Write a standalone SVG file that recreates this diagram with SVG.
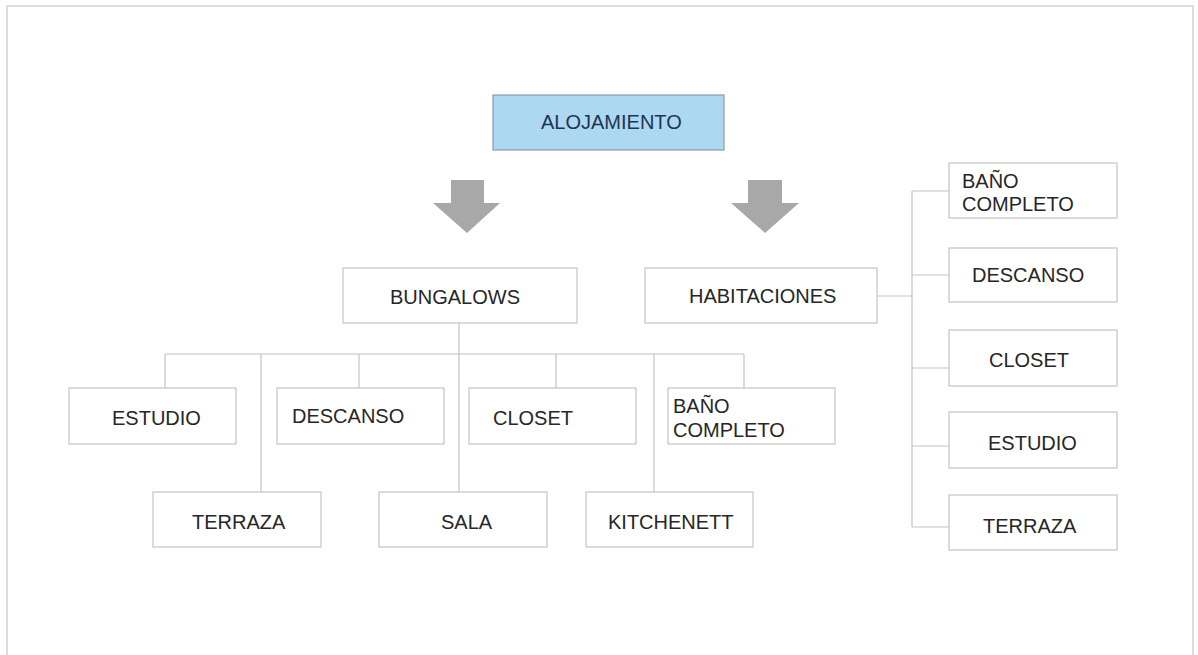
<svg xmlns="http://www.w3.org/2000/svg" width="1198" height="655" viewBox="0 0 1198 655">
<style>
.box{fill:#ffffff;stroke:#c4c4c4;stroke-width:1.2}
.root{fill:#acd8f2;stroke:#8d9ba6;stroke-width:1.2}
.t{font-family:"Liberation Sans",Arial,sans-serif;font-size:20px;fill:#262626}
.rt{fill:#1e3550}
.ln{stroke:#c4c4c4;stroke-width:1.2;fill:none}
.arr{fill:#a8a8a8}
</style>
<rect x="7" y="6" width="1186" height="670" fill="#ffffff" stroke="#d2d2d2" stroke-width="1.5"/>
<g id="connectors">
<path class="ln" d="M459,323 V492 M165,354 H744 M165,354 V388 M261,354 V492 M359,354 V388 M556,354 V388 M654,354 V492 M744,354 V388"/>
<path class="ln" d="M877,296 H912 M912,191 V527 M912,191 H949 M912,275 H949 M912,368 H949 M912,446 H949 M912,527 H949"/>
<polygon class="arr" points="451,180 484,180 484,203 500,203 467,233 433,203 451,203"/>
<polygon class="arr" points="748,180 782,180 782,203 799,203 765,233 731,203 748,203"/>
</g>
<g id="alojamiento"><rect class="root" x="493" y="95" width="231" height="55"/><text class="t rt" x="541" y="129">ALOJAMIENTO</text></g>
<g id="bungalows"><rect class="box" x="343" y="268" width="234" height="55"/><text class="t" x="390" y="304">BUNGALOWS</text></g>
<g id="habitaciones"><rect class="box" x="645" y="268" width="232" height="55"/><text class="t" x="689" y="303">HABITACIONES</text></g>
<g id="b-estudio"><rect class="box" x="69" y="388" width="167" height="56"/><text class="t" x="112" y="425">ESTUDIO</text></g>
<g id="b-descanso"><rect class="box" x="277" y="388" width="167" height="56"/><text class="t" x="292" y="423">DESCANSO</text></g>
<g id="b-closet"><rect class="box" x="469" y="388" width="167" height="56"/><text class="t" x="493" y="425">CLOSET</text></g>
<g id="b-bano"><rect class="box" x="668" y="388" width="167" height="56"/><text class="t" x="673" y="413">BAÑO</text><text class="t" x="673" y="437">COMPLETO</text></g>
<g id="b-terraza"><rect class="box" x="153" y="492" width="168" height="55"/><text class="t" x="192" y="529">TERRAZA</text></g>
<g id="b-sala"><rect class="box" x="379" y="492" width="168" height="55"/><text class="t" x="441" y="529">SALA</text></g>
<g id="b-kitchenett"><rect class="box" x="586" y="492" width="167" height="55"/><text class="t" x="608" y="529">KITCHENETT</text></g>
<g id="h-bano"><rect class="box" x="949" y="163" width="168" height="55"/><text class="t" x="962" y="188">BAÑO</text><text class="t" x="962" y="211">COMPLETO</text></g>
<g id="h-descanso"><rect class="box" x="949" y="248" width="168" height="54"/><text class="t" x="972" y="282">DESCANSO</text></g>
<g id="h-closet"><rect class="box" x="949" y="330" width="168" height="56"/><text class="t" x="989" y="367">CLOSET</text></g>
<g id="h-estudio"><rect class="box" x="949" y="412" width="168" height="56"/><text class="t" x="988" y="450">ESTUDIO</text></g>
<g id="h-terraza"><rect class="box" x="949" y="495" width="168" height="55"/><text class="t" x="983" y="533">TERRAZA</text></g>
</svg>
